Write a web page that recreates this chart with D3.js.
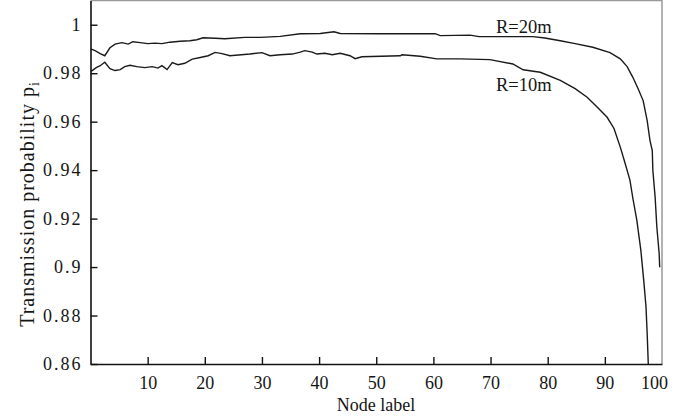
<!doctype html>
<html>
<head>
<meta charset="utf-8">
<script src="https://d3js.org/d3.v7.min.js"></script>
<style>
  body { margin: 0; background: #fff; }
  text { font-family: "Liberation Serif", "DejaVu Serif", serif; fill: #151515; }
</style>
</head>
<body>
<svg width="690" height="419"></svg>
<script>
// node labels / values
var nodes20 = [0, 0.8, 1.7, 2.5, 3.4, 4.3, 5.5, 6.6, 7.4, 8.7, 10, 11.3, 12.5, 13.9, 15.7, 17.4, 18.6, 19.7,
  21.8, 23.5, 27, 29.7, 33.2, 36.7, 40.2, 42.6, 43.7, 50.7, 60.3, 61.2, 66.4, 68, 71.7, 77.4, 79.5,
  82.2, 84.8, 87.9, 90.9, 92.7, 93.9, 94.9, 95.8, 96.7, 97.4, 97.9, 98.3, 98.4, 98.8, 99.1, 99.5, 99.6];
var r20 = [0.9900, 0.9893, 0.9881, 0.9872, 0.9905, 0.9920, 0.9926, 0.9920, 0.9930, 0.9926, 0.9922, 0.9924,
  0.9922, 0.9928, 0.9932, 0.9934, 0.9938, 0.9946, 0.9944, 0.9942, 0.9948, 0.9948, 0.9952, 0.9963,
  0.9964, 0.9971, 0.9964, 0.9963, 0.9963, 0.9955, 0.9957, 0.9951, 0.9951, 0.9951, 0.9945,
  0.9934, 0.9922, 0.9907, 0.9885, 0.9859, 0.9827, 0.9783, 0.9737, 0.9687, 0.9605, 0.9522, 0.9481,
  0.9399, 0.9288, 0.9164, 0.9057, 0.8999];

var nodes10 = [0, 0.3, 1, 1.7, 2.5, 3.4, 4.3, 5.2, 6, 6.9, 8.1, 9.5, 10.8, 11.8, 12.5, 13.4, 14.3, 15.3,
  16.5, 17.8, 19.2, 20.6, 21.8, 23, 24.4, 27.9, 30, 31.4, 33.2, 35.3, 36.7, 37.5, 38.8, 39.6, 41,
  42.3, 43.7, 45.4, 46.3, 47.5, 54.2, 54.5, 57.7, 60.6, 64.7, 69.9, 73.9, 75.7, 78.7, 82.2, 84.8,
  86.9, 88.6, 90.4, 91.6, 92.7, 93.4, 93.9, 94.4, 94.9, 95.6, 96.3, 96.8, 97.2, 97.4, 97.6];
var r10 = [0.9808, 0.9811, 0.9823, 0.9831, 0.9845, 0.9819, 0.9811, 0.9815, 0.9827, 0.9833, 0.9827, 0.9823,
  0.9827, 0.9821, 0.9831, 0.9815, 0.9844, 0.9835, 0.9841, 0.9858, 0.9865, 0.9872, 0.9886, 0.9881,
  0.9872, 0.9879, 0.9885, 0.9872, 0.9876, 0.9879, 0.9887, 0.9893, 0.9887, 0.9879, 0.9882, 0.9876,
  0.9882, 0.9872, 0.9860, 0.9868, 0.9872, 0.9876, 0.9870, 0.9859, 0.9859, 0.9856, 0.9838, 0.9814,
  0.9804, 0.9770, 0.9736, 0.9701, 0.9662, 0.9618, 0.9572, 0.9495, 0.9440, 0.9399, 0.9358, 0.9284,
  0.9193, 0.9069, 0.8946, 0.8836, 0.8728, 0.8600];

var xTicks = [10, 20, 30, 40, 50, 60, 70, 80, 90, 100];
var yTicks = [0.86, 0.88, 0.9, 0.92, 0.94, 0.96, 0.98, 1];

var svg = d3.select("svg");
var pLeft = 90.5, pRight = 662, pTop = 0.5, pBottom = 364;

var x = d3.scaleLinear().domain([0, 100]).range([pLeft, pRight]);
var y = d3.scaleLinear().domain([0.86, 1.01]).range([pBottom, pTop]);

// frame (top/right grey)
svg.append("path")
  .attr("d", "M" + pLeft + "," + pTop + "H" + pRight + "V" + pBottom)
  .attr("fill", "none").attr("stroke", "#999").attr("stroke-width", 1.5);

svg.append("clipPath").attr("id", "clip")
  .append("rect").attr("x", pLeft).attr("y", pTop).attr("width", pRight - pLeft).attr("height", pBottom - pTop);

var line = d3.line().x(function(d) { return x(d[0]); }).y(function(d) { return y(d[1]); });

[[nodes20, r20], [nodes10, r10]].forEach(function(s) {
  svg.append("path")
    .datum(d3.zip(s[0], s[1]))
    .attr("clip-path", "url(#clip)")
    .attr("fill", "none")
    .attr("stroke", "#1a1a1a")
    .attr("stroke-width", 1.4)
    .attr("d", line);
});

// axes
var fmt = function(v) { return String(+v.toFixed(2)); };
var gx = svg.append("g").attr("transform", "translate(0," + pBottom + ")")
  .call(d3.axisBottom(x).tickValues(xTicks).tickSizeInner(-7).tickSizeOuter(0).tickPadding(12));
var gy = svg.append("g").attr("transform", "translate(" + pLeft + ",0)")
  .call(d3.axisLeft(y).tickValues(yTicks).tickFormat(fmt).tickSizeInner(-7).tickSizeOuter(0).tickPadding(8));

[gx, gy].forEach(function(g) {
  g.select(".domain").attr("stroke", "#111").attr("stroke-width", 1.6);
  g.selectAll(".tick line").attr("stroke", "#111").attr("stroke-width", 1.4);
  g.selectAll(".tick text").attr("fill", "#151515").style("font-size", "18px")
    .style("font-family", "'Liberation Serif', serif");
});
gy.selectAll(".tick text").style("letter-spacing", "2px");
gx.selectAll(".tick text").filter(function(d) { return d === 100; }).attr("dx", -8);
gx.selectAll(".tick line").filter(function(d) { return d === 100; }).remove();

// curve labels
svg.append("text").attr("x", 496).attr("y", 33).style("font-size", "18.5px").text("R=20m");
svg.append("text").attr("x", 496).attr("y", 91).style("font-size", "18.5px").text("R=10m");

// axis titles
svg.append("text").attr("x", 376).attr("y", 411).attr("text-anchor", "middle")
  .style("font-size", "18px").text("Node label");

var yt = svg.append("text").attr("transform", "translate(34,204) rotate(-90)")
  .attr("text-anchor", "middle").style("font-size", "20px").style("letter-spacing", "1px");
yt.append("tspan").text("Transmission probability p");
yt.append("tspan").attr("dy", 5).style("font-size", "14px").text("i");
</script>
</body>
</html>
